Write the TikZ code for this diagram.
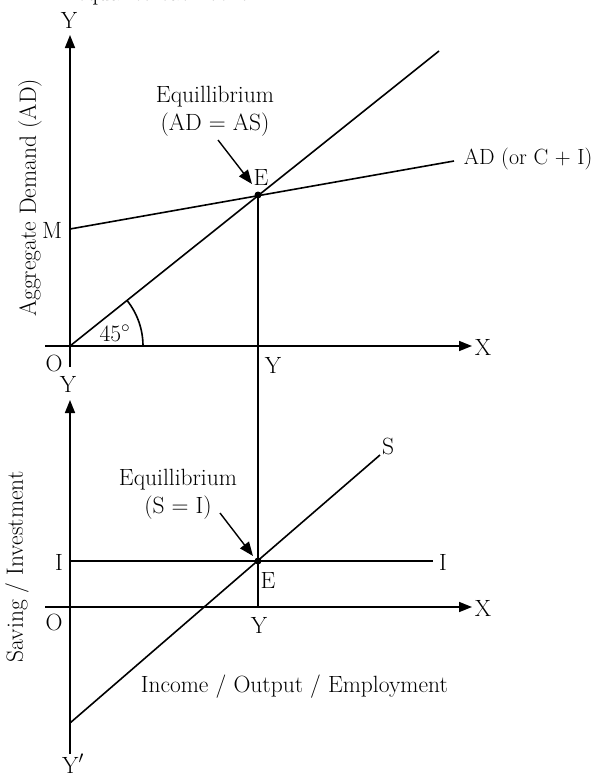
\documentclass[tikz,border=0pt]{standalone}
\usetikzlibrary{arrows.meta}
\begin{document}
\begin{tikzpicture}[x=1pt,y=-1pt,line width=1.6pt,
  lbl/.style={font=\fontsize{23.5}{28}\selectfont,inner sep=0pt},
  axis/.style={-{Triangle[length=13pt,width=10pt]}},
  pointer/.style={-{Triangle[length=14pt,width=11pt]},line width=1.4pt},
  dot/.style={circle,fill=black,inner sep=0pt,minimum size=7pt}]
\useasboundingbox (0,0) rectangle (606,779);
\clip (0,0) rectangle (606,779);
% ---------- upper panel ----------
\coordinate (O1) at (70,346);
\coordinate (Yb1) at (70,367);
\coordinate (Yt1) at (70,35);
\coordinate (Xl1) at (45,346);
\coordinate (Xr1) at (472,346);
\coordinate (M) at (70,229);
\coordinate (ADend) at (454,161);
\coordinate (Dend) at (439,51);
\coordinate (A1) at (143,346);
\node[dot] (E1) at (258,195) {};
\draw[axis] (Yb1) -- (Yt1);
\draw[axis] (Xl1) -- (Xr1);
\draw (M) -- (ADend);
\draw (O1) -- (Dend);
\draw (A1) arc[start angle=0,end angle=-38.6,radius=73];
\node[lbl,anchor=base] (topcut) at (170,1) {equal to each other.};
\node[lbl] (Ylab1) at (69,20) {Y};
\node[lbl,anchor=west] (Xlab1) at (474,347) {X};
\node[lbl] (Mlab) at (52,230) {M};
\node[lbl] (Olab1) at (54,363) {O};
\node[lbl] (Yfoot1) at (273,365) {Y};
\node[lbl] (ang) at (115,333) {45$^\circ$};
\node[lbl] (Elab1) at (261,177) {E};
\node[lbl] (eq1a) at (215,97) {Equillibrium};
\node[lbl] (eq1b) at (215,125) {(AD = AS)};
\coordinate (p1s) at (218,140);
\coordinate (p1e) at (252,184);
\draw[pointer] (p1s) -- (p1e);
\node[lbl,anchor=west,font=\fontsize{22}{26}\selectfont] (ADlab) at (463,159) {AD (or C + I)};
\node[lbl,rotate=90] (ylab1) at (30,198) {Aggregate Demand (AD)};
% ---------- lower panel ----------
\coordinate (O2) at (70,607);
\coordinate (Yb2) at (70,754);
\coordinate (Yt2) at (70,400);
\coordinate (Xl2) at (45,607);
\coordinate (Xr2) at (472,607);
\coordinate (I1) at (70,561);
\coordinate (Iend) at (433,561);
\coordinate (Sbot) at (70,723);
\coordinate (Stop) at (380,455);
\coordinate (F2) at (258,607);
\node[dot] (E2) at (258,561) {};
\draw[axis] (Yb2) -- (Yt2);
\draw[axis] (Xl2) -- (Xr2);
\draw (I1) -- (Iend);
\draw (Sbot) -- (Stop);
\draw (E1.center) -- (E2.center) -- (F2);
\node[lbl] (Ylab2) at (68,384) {Y};
\node[lbl,anchor=base] (Yplab) at (73,773) {Y$'$};
\node[lbl,anchor=west] (Xlab2) at (474,608) {X};
\node[lbl] (Ilab1) at (59,562) {I};
\node[lbl] (Ilab2) at (443,562) {I};
\node[lbl] (Slab) at (388,446) {S};
\node[lbl] (Olab2) at (54,622) {O};
\node[lbl] (Yfoot2) at (259,625) {Y};
\node[lbl] (Elab2) at (268,580) {E};
\node[lbl] (eq2a) at (178,480) {Equillibrium};
\node[lbl] (eq2b) at (178,508) {(S = I)};
\coordinate (p2s) at (220,513);
\coordinate (p2e) at (253,556);
\draw[pointer] (p2s) -- (p2e);
\node[lbl,rotate=90] (ylab2) at (17,567) {Saving / Investment};
\node[lbl,anchor=west] (xlab) at (140,687) {Income / Output / Employment};
\end{tikzpicture}
\end{document}
